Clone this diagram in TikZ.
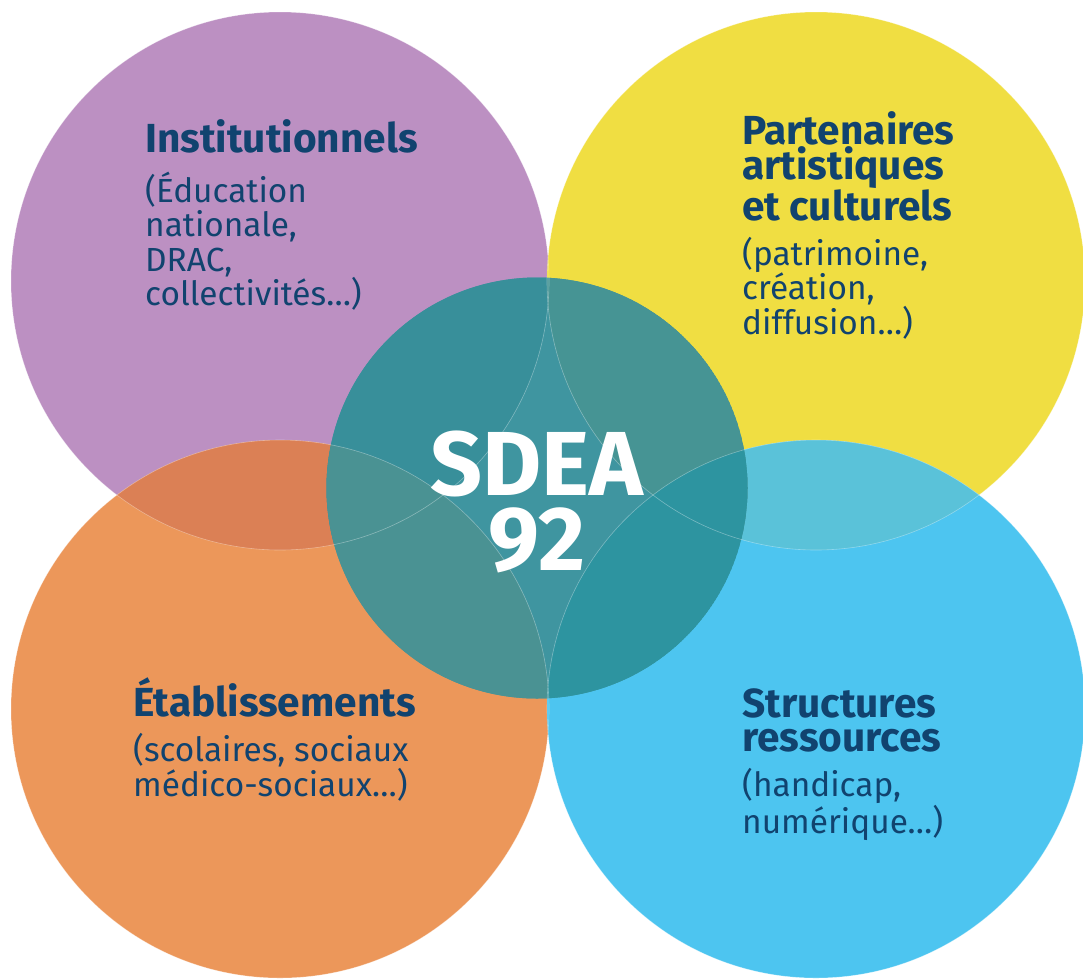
\documentclass[tikz,border=0pt]{standalone}
\usepackage{fontspec}
\setmainfont{Fira Sans}
\definecolor{lilas}{HTML}{BC90C2}
\definecolor{jaune}{HTML}{F0DE42}
\definecolor{orangec}{HTML}{EC975A}
\definecolor{bleuciel}{HTML}{4DC5F0}
\definecolor{orangefonce}{HTML}{DB8055}
\definecolor{bleuvert}{HTML}{5AC2D9}
\definecolor{sarcelle}{HTML}{3F95A0}
\definecolor{sarcelleA}{HTML}{388F9A}
\definecolor{sarcelleB}{HTML}{469494}
\definecolor{sarcelleC}{HTML}{4A9293}
\definecolor{sarcelleD}{HTML}{2D94A0}
\definecolor{bleunuit}{HTML}{11436F}
\tikzset{
  titre/.style={anchor=base west, align=left, inner sep=0pt, text=bleunuit,
    font=\fontsize{40.6}{33.5}\selectfont\bfseries},
  texte/.style={anchor=base west, align=left, inner sep=0pt, text=bleunuit,
    font=\fontsize{33.4}{34.5}\selectfont},
  centre/.style={anchor=base, align=center, inner sep=0pt, text=white,
    font=\fontsize{91}{75}\selectfont\bfseries},
  trait/.style={white, opacity=.35, line width=.6pt}
}
\begin{document}
\begin{tikzpicture}[x=1pt,y=-1pt]
\useasboundingbox (0,0) rectangle (1083,978);
\def\rb{269}
\def\rc{210.5}
\fill[lilas] (280,281) circle (\rb);
\fill[jaune] (816,281) circle (\rb);
\fill[orangec] (280,709) circle (\rb);
\fill[bleuciel] (816,709) circle (\rb);
\begin{scope}
\clip (280,281) circle (\rb);
\fill[orangefonce] (280,709) circle (\rb);
\end{scope}
\begin{scope}
\clip (816,281) circle (\rb);
\fill[bleuvert] (816,709) circle (\rb);
\end{scope}
\begin{scope}
\clip (537,488) circle (\rc);
\fill[sarcelle] (537,488) circle (\rc);
\fill[sarcelleA] (280,281) circle (\rb);
\fill[sarcelleB] (816,281) circle (\rb);
\fill[sarcelleC] (280,709) circle (\rb);
\fill[sarcelleD] (816,709) circle (\rb);
\end{scope}
\draw[trait] (280,281) circle (\rb);
\draw[trait] (816,281) circle (\rb);
\draw[trait] (280,709) circle (\rb);
\draw[trait] (816,709) circle (\rb);

\node[titre] (instit) at (145,152) {Institutionnels};
\node[texte] (instit-txt) at (145,305.5) {(Éducation\\nationale,\\DRAC,\\collectivités…)};
\node[titre] (parten) at (742,220) {Partenaires\\artistiques\\et culturels};
\node[texte] (parten-txt) at (742,334) {(patrimoine,\\création,\\diffusion…)};
\node[titre] (etab) at (133,716) {Établissements};
\node[texte] (etab-txt) at (133,796) {(scolaires, sociaux\\médico-sociaux…)};
\node[titre] (struct) at (742,751) {Structures\\ressources};
\node[texte] (struct-txt) at (742,833) {(handicap,\\numérique…)};
\node[centre] (sdea) at (537,570) {SDEA\\92};
\end{tikzpicture}
\end{document}
